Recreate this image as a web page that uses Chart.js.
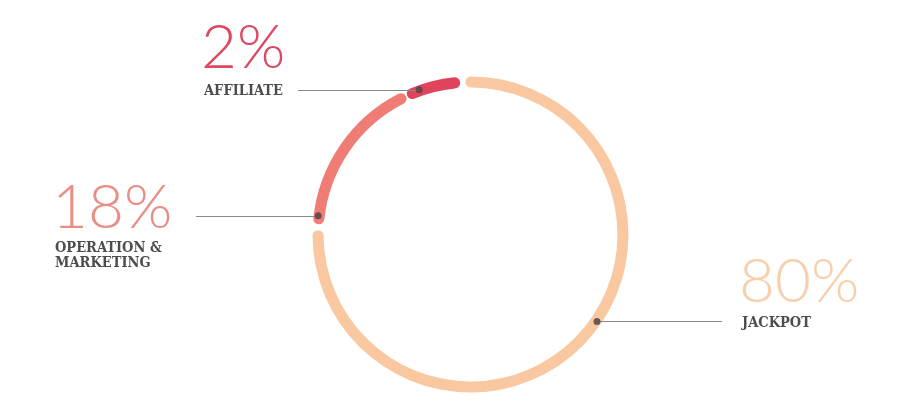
<!DOCTYPE html>
<html>
<head>
<meta charset="utf-8">
<script src="https://cdn.jsdelivr.net/npm/chart.js@4.4.1/dist/chart.umd.min.js"></script>
<style>
html,body{margin:0;padding:0;background:#fff;}
#wrap{position:relative;width:902px;height:407px;}
</style>
</head>
<body>
<div id="wrap"><canvas id="myChart" width="902" height="407"></canvas></div>
<script>
const categories = ['JACKPOT', 'OPERATION &\nMARKETING', 'AFFILIATE'];
const percentLabels = ['80%', '18%', '2%'];
// arc sizes as they are drawn in the picture (the 2% slice is drawn bigger)
const arcValues = [77.0, 17.2, 5.8];
const sliceColors = ['#FAC8A0', '#EF7D76', '#E1435C'];
const textColors = ['#F7CFAB', '#E88E87', '#DA4861'];
// where the leader dot sits on each slice, degrees clockwise from 12 o'clock
const dotAngles = [124.5, 277, 340.5];

// text blocks: x of text, baseline of the big number, baseline of first label line, far end of the leader line
const callouts = [
    {x: 742, numY: 302, labelY: 327, lineEnd: 722},
    {x: 55, numY: 228, labelY: 252, lineEnd: 196},
    {x: 204, numY: 68, labelY: 95, lineEnd: 298}
];

const calloutPlugin = {
    id: 'callouts',
    afterDraw: (chart) => {
        const ctx = chart.ctx;
        const meta = chart.getDatasetMeta(0);
        ctx.save();
        meta.data.forEach((arc, i) => {
            const c = callouts[i];
            const r = (arc.innerRadius + arc.outerRadius) / 2 + 3;
            const a = (dotAngles[i] - 90) * Math.PI / 180;
            const dx = arc.x + r * Math.cos(a);
            const dy = arc.y + r * Math.sin(a);

            // leader line
            ctx.strokeStyle = '#8a8a8a';
            ctx.lineWidth = 1;
            ctx.beginPath();
            ctx.moveTo(c.lineEnd, Math.round(dy) + 0.5);
            ctx.lineTo(dx, Math.round(dy) + 0.5);
            ctx.stroke();

            // dot
            ctx.fillStyle = 'rgba(80,70,70,0.85)';
            ctx.beginPath();
            ctx.arc(dx, dy, 3.5, 0, Math.PI * 2);
            ctx.fill();

            // big number
            ctx.fillStyle = textColors[i];
            ctx.textAlign = 'left';
            ctx.textBaseline = 'alphabetic';
            ctx.font = '300 62px Lato';
            ctx.fillText(percentLabels[i], c.x - 3, c.numY);

            // label
            ctx.fillStyle = '#4d4d4d';
            ctx.font = 'bold 14.5px "DejaVu Serif Condensed", "DejaVu Serif"';
            categories[i].split('\n').forEach((line, k) => {
                ctx.fillText(line, c.x, c.labelY + k * 15);
            });
        });
        ctx.restore();
    }
};

const myChart = new Chart(document.getElementById('myChart'), {
    type: 'doughnut',
    data: {
        labels: categories,
        datasets: [{
            data: arcValues,
            backgroundColor: sliceColors,
            borderWidth: 0,
            borderRadius: 5.5,
            spacing: 4
        }]
    },
    options: {
        responsive: false,
        animation: false,
        rotation: -3.75,
        radius: 156,
        cutout: '92.9%',
        layout: {padding: {left: 39, top: 62}},
        plugins: {legend: {display: false}, tooltip: {enabled: false}}
    },
    plugins: [calloutPlugin]
});
</script>
</body>
</html>
